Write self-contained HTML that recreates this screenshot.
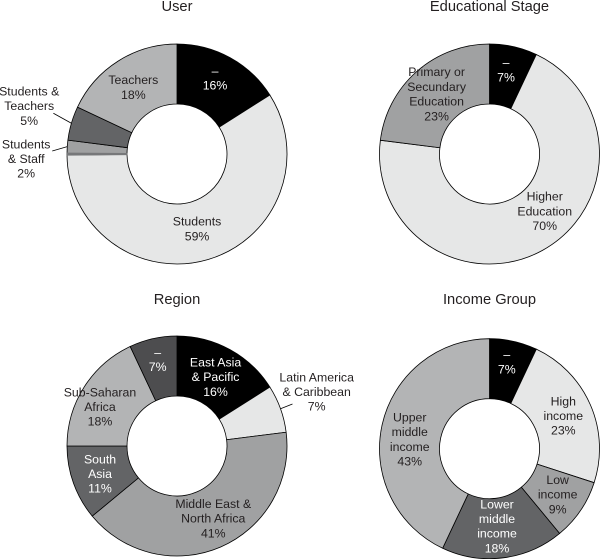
<!DOCTYPE html>
<html>
<head>
<meta charset="utf-8">
<style>
html,body{margin:0;padding:0;background:#fff;}
svg{display:block;}
text{font-family:"Liberation Sans","DejaVu Sans",sans-serif;}
</style>
</head>
<body>
<svg id="chart" width="600" height="559" viewBox="0 0 600 559" xmlns="http://www.w3.org/2000/svg"></svg>
<script>
// ---- data ----
const userTitle = "User";
const userValues = [16, 58.9, 0.25, 1.9, 5, 18];
const userLabels = [["–", "16%"], ["Students", "59%"], null, ["Students", "& Staff", "2%"], ["Students &", "Teachers", "5%"], ["Teachers", "18%"]];

const stageTitle = "Educational Stage";
const stageValues = [7, 70, 23];
const stageLabels = [["–", "7%"], ["Higher", "Education", "70%"], ["Primary or", "Secundary", "Education", "23%"]];

const regionTitle = "Region";
const regionValues = [16, 7, 41, 11, 18, 7];
const regionLabels = [["East Asia", "& Pacific", "16%"], ["Latin America", "& Caribbean", "7%"], ["Middle East &", "North Africa", "41%"], ["South", "Asia", "11%"], ["Sub-Saharan", "Africa", "18%"], ["–", "7%"]];

const incomeTitle = "Income Group";
const incomeValues = [7, 23, 9, 18, 43];
const incomeLabels = [["–", "7%"], ["High", "income", "23%"], ["Low", "income", "9%"], ["Lower", "middle", "income", "18%"], ["Upper", "middle", "income", "43%"]];

// ---- styling and layout (not data) ----
const panels = [
  {
    name: "user", title: userTitle, values: userValues, labels: userLabels,
    cx: 177, cy: 154, titleY: 11,
    fills: ["#000000", "#e6e7e7", "#77787a", "#a0a1a2", "#636466", "#b3b4b5"],
    inks: ["#ffffff", "#231f20", "#231f20", "#231f20", "#231f20", "#231f20"],
    nudges: [[-0.5, -6], [-2.6, -2], [0, 0], [-71, 10], [-71, -25.7], [-0.8, 0.8]],
    leaders: [null, null, null, [-15, 4.3], [-18, -10], null],
    seamless: [false, false, true, false, false, false]
  },
  {
    name: "educational-stage", title: stageTitle, values: stageValues, labels: stageLabels,
    cx: 489.5, cy: 154, titleY: 11,
    fills: ["#000000", "#e6e7e7", "#a0a1a2"],
    inks: ["#ffffff", "#231f20", "#231f20"],
    nudges: [[-0.9, -6.2], [16.7, -13.1], [0, 0]],
    leaders: [null, null, null],
    seamless: [false, false, false]
  },
  {
    name: "region", title: regionTitle, values: regionValues, labels: regionLabels,
    cx: 177, cy: 446, titleY: 304,
    fills: ["#000000", "#e6e7e7", "#a0a1a2", "#636466", "#b3b4b5", "#4d4d4f"],
    inks: ["#ffffff", "#231f20", "#231f20", "#ffffff", "#231f20", "#ffffff"],
    nudges: [[0, 1], [64.4, -27.2], [4.5, -1.1], [-1.7, 0.6], [-9.5, 3.6], [-1.9, -8.6]],
    leaders: [null, [12, -4.7], null, null, null, null],
    seamless: [false, false, false, false, false, false]
  },
  {
    name: "income-group", title: incomeTitle, values: incomeValues, labels: incomeLabels,
    cx: 489.5, cy: 448.7, titleY: 304,
    fills: ["#000000", "#e6e7e7", "#a0a1a2", "#636466", "#b3b4b5"],
    inks: ["#ffffff", "#231f20", "#231f20", "#ffffff", "#231f20"],
    nudges: [[-0.2, -8.9], [0.4, -1.2], [2, 0.6], [-2.5, -2], [-1.7, 8]],
    leaders: [null, null, null, null, null],
    seamless: [false, false, false, false, false]
  }
];

const SVG_NS = "http://www.w3.org/2000/svg";
const OUTER = 110, INNER = 50, LABEL_R = 80, LINE_H = 14.7;
const svg = document.getElementById("chart");

function angleOf(cum, total) { return cum / total * 2 * Math.PI; }
function polar(cx, cy, r, a) { return [cx + r * Math.sin(a), cy - r * Math.cos(a)]; }

function slicePath(cx, cy, a0, a1) {
  const large = a1 - a0 > Math.PI ? 1 : 0;
  const p0 = polar(cx, cy, OUTER, a0), p1 = polar(cx, cy, OUTER, a1);
  const p2 = polar(cx, cy, INNER, a1), p3 = polar(cx, cy, INNER, a0);
  return "M" + p0[0] + " " + p0[1] +
    "A" + OUTER + " " + OUTER + " 0 " + large + " 1 " + p1[0] + " " + p1[1] +
    "L" + p2[0] + " " + p2[1] +
    "A" + INNER + " " + INNER + " 0 " + large + " 0 " + p3[0] + " " + p3[1] + "Z";
}

panels.forEach(function (p) {
  const g = document.createElementNS(SVG_NS, "g");
  
  
  svg.appendChild(g);

  const title = document.createElementNS(SVG_NS, "text");
  
  
  title.setAttribute("x", p.cx);
  title.setAttribute("y", p.titleY);
  title.setAttribute("text-anchor", "middle");
  title.setAttribute("font-size", "14.7");
  title.setAttribute("fill", "#231f20");
  title.textContent = p.title;
  g.appendChild(title);

  const total = p.values.reduce(function (s, v) { return s + v; }, 0);
  let cum = 0;
  const spans = p.values.map(function (v) {
    const a0 = angleOf(cum, total);
    cum += v;
    return [a0, angleOf(cum, total)];
  });

  // normal slices first, borderless slivers on top
  const order = p.values.map(function (v, i) { return i; }).sort(function (a, b) {
    return (p.seamless[a] ? 1 : 0) - (p.seamless[b] ? 1 : 0);
  });
  order.forEach(function (i) {
    const path = document.createElementNS(SVG_NS, "path");
    
    
    path.setAttribute("d", slicePath(p.cx, p.cy, spans[i][0], spans[i][1]));
    path.setAttribute("fill", p.fills[i]);
    path.setAttribute("stroke", p.seamless[i] ? p.fills[i] : "#000000");
    path.setAttribute("stroke-width", p.seamless[i] ? "1.3" : "0.8");
    path.setAttribute("stroke-linejoin", "round");
    g.appendChild(path);
  });

  p.values.forEach(function (v, i) {
    const lines = p.labels[i];
    if (!lines) { return; }
    const mid = (spans[i][0] + spans[i][1]) / 2;
    const anchor = polar(p.cx, p.cy, LABEL_R, mid);
    const lx = anchor[0] + p.nudges[i][0];
    const ly = anchor[1] + p.nudges[i][1];

    if (p.leaders[i]) {
      const edge = polar(p.cx, p.cy, OUTER, mid);
      const leader = document.createElementNS(SVG_NS, "line");
      
      
      leader.setAttribute("x1", edge[0]);
      leader.setAttribute("y1", edge[1]);
      leader.setAttribute("x2", edge[0] + p.leaders[i][0]);
      leader.setAttribute("y2", edge[1] + p.leaders[i][1]);
      leader.setAttribute("stroke", "#000000");
      leader.setAttribute("stroke-width", "0.8");
      g.appendChild(leader);
    }

    const label = document.createElementNS(SVG_NS, "text");
    
    
    label.setAttribute("text-anchor", "middle");
    label.setAttribute("font-size", "12.3");
    label.setAttribute("fill", p.inks[i]);
    lines.forEach(function (line, k) {
      const ts = document.createElementNS(SVG_NS, "tspan");
      ts.setAttribute("x", lx);
      ts.setAttribute("y", ly + (k - (lines.length - 1) / 2) * LINE_H + 4.3);
      ts.textContent = line;
      label.appendChild(ts);
    });
    g.appendChild(label);
  });
});
</script>
</body>
</html>
